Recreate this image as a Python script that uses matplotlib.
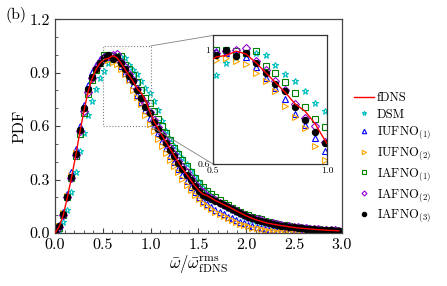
import numpy as np
import matplotlib
matplotlib.use('Agg')
import matplotlib.pyplot as plt
from matplotlib.patches import Rectangle, ConnectionPatch
from matplotlib.ticker import MultipleLocator

plt.rcParams['font.family'] = 'serif'
plt.rcParams['font.serif'] = ['cmr10']
plt.rcParams['mathtext.fontset'] = 'cm'
plt.rcParams['axes.formatter.use_mathtext'] = True

# bin centres of the PDF
x = np.arange(70) * 0.043

fdns = [0.0, 0.035, 0.10, 0.20, 0.31, 0.43, 0.56, 0.68, 0.79, 0.865,
        0.92, 0.955, 0.975, 0.98, 0.995, 0.985, 0.955, 0.92, 0.885, 0.85,
        0.81, 0.785, 0.742, 0.684, 0.63, 0.59, 0.548, 0.51, 0.472, 0.435,
        0.398, 0.362, 0.33, 0.297, 0.265, 0.238, 0.218, 0.21, 0.196, 0.183,
        0.172, 0.16, 0.15, 0.138, 0.126, 0.114, 0.102, 0.092, 0.082, 0.074,
        0.067, 0.060, 0.055, 0.050, 0.046, 0.042, 0.039, 0.035, 0.032, 0.029,
        0.027, 0.025, 0.023, 0.021, 0.019, 0.018, 0.016, 0.015, 0.014, 0.013]

dsm = [0.0, 0.02, 0.06, 0.13, 0.23, 0.34, 0.46, 0.56, 0.66, 0.74,
       0.81, 0.87, 0.91, 0.955, 0.975, 0.985, 0.988, 0.98, 0.945, 0.915,
       0.89, 0.855, 0.815, 0.785, 0.74, 0.69, 0.63, 0.57, 0.53, 0.49,
       0.455, 0.42, 0.385, 0.35, 0.315, 0.285, 0.255, 0.23, 0.208, 0.188,
       0.17, 0.155, 0.142, 0.13, 0.118, 0.106, 0.095, 0.085, 0.076, 0.068,
       0.061, 0.055, 0.05, 0.045, 0.041, 0.037, 0.034, 0.031, 0.028, 0.026,
       0.024, 0.022, 0.02, 0.018, 0.017, 0.015, 0.014, 0.013, 0.012, 0.011]

iufno1 = [0.0, 0.045, 0.12, 0.22, 0.34, 0.47, 0.60, 0.72, 0.83, 0.905,
          0.945, 0.975, 0.995, 0.99, 0.985, 0.975, 0.94, 0.90, 0.865, 0.828,
          0.775, 0.735, 0.69, 0.646, 0.60, 0.56, 0.515, 0.475, 0.435, 0.398,
          0.36, 0.325, 0.29, 0.26, 0.23, 0.203, 0.182, 0.163, 0.147, 0.132,
          0.118, 0.105, 0.093, 0.082, 0.072, 0.063, 0.055, 0.047, 0.041, 0.035,
          0.029, 0.024, 0.02, 0.016, 0.013, 0.01, 0.008, 0.006, 0.005, 0.004,
          0.003, 0.002, 0.002, 0.001, 0.001, 0.001, 0.001, 0.0, 0.0, 0.0]

iufno2 = [0.0, 0.04, 0.11, 0.21, 0.32, 0.45, 0.575, 0.69, 0.79, 0.86,
          0.91, 0.945, 0.965, 0.97, 0.961, 0.949, 0.92, 0.892, 0.857, 0.804,
          0.764, 0.724, 0.663, 0.613, 0.575, 0.53, 0.49, 0.45, 0.41, 0.375,
          0.34, 0.305, 0.272, 0.242, 0.215, 0.19, 0.17, 0.152, 0.136, 0.121,
          0.107, 0.094, 0.082, 0.071, 0.061, 0.052, 0.044, 0.037, 0.031, 0.026,
          0.021, 0.017, 0.013, 0.01, 0.008, 0.006, 0.005, 0.004, 0.003, 0.002,
          0.002, 0.001, 0.001, 0.001, 0.0, 0.0, 0.0, 0.0, 0.0, 0.0]

iafno1 = [0.0, 0.03, 0.10, 0.20, 0.31, 0.43, 0.555, 0.675, 0.78, 0.86,
          0.915, 0.955, 1.0, 1.0, 0.995, 0.99, 0.995, 0.943, 0.92, 0.888,
          0.847, 0.80, 0.757, 0.729, 0.685, 0.64, 0.60, 0.56, 0.52, 0.48,
          0.445, 0.41, 0.375, 0.342, 0.31, 0.282, 0.258, 0.236, 0.217, 0.2,
          0.184, 0.169, 0.155, 0.142, 0.13, 0.119, 0.109, 0.1, 0.092, 0.084,
          0.077, 0.07, 0.064, 0.058, 0.053, 0.048, 0.044, 0.04, 0.036, 0.033,
          0.03, 0.027, 0.025, 0.023, 0.021, 0.019, 0.017, 0.016, 0.015, 0.014]

iafno2 = [0.005, 0.035, 0.10, 0.20, 0.31, 0.44, 0.57, 0.685, 0.79, 0.87,
          0.925, 0.96, 0.99, 0.995, 1.0, 1.005, 0.96, 0.93, 0.89, 0.86,
          0.81, 0.76, 0.731, 0.677, 0.635, 0.595, 0.555, 0.515, 0.478, 0.442,
          0.407, 0.372, 0.34, 0.308, 0.278, 0.25, 0.228, 0.21, 0.196, 0.183,
          0.17, 0.158, 0.146, 0.134, 0.123, 0.112, 0.102, 0.093, 0.085, 0.078,
          0.071, 0.065, 0.059, 0.054, 0.05, 0.046, 0.042, 0.038, 0.035, 0.032,
          0.029, 0.027, 0.025, 0.023, 0.021, 0.019, 0.018, 0.016, 0.015, 0.014]

iafno3 = [0.005, 0.04, 0.105, 0.205, 0.317, 0.445, 0.58, 0.70, 0.806, 0.877,
          0.922, 0.956, 0.981, 1.0, 0.977, 0.99, 0.953, 0.918, 0.879, 0.855,
          0.80, 0.755, 0.71, 0.672, 0.625, 0.585, 0.543, 0.505, 0.468, 0.432,
          0.395, 0.36, 0.327, 0.295, 0.262, 0.235, 0.215, 0.203, 0.19, 0.178,
          0.167, 0.156, 0.145, 0.134, 0.123, 0.112, 0.101, 0.091, 0.082, 0.074,
          0.067, 0.06, 0.055, 0.05, 0.046, 0.042, 0.038, 0.035, 0.032, 0.029,
          0.027, 0.025, 0.023, 0.021, 0.019, 0.018, 0.016, 0.015, 0.014, 0.013]

# (label, data, marker, colour, filled)
series = [
    ('DSM', dsm, '*', 'c', False),
    (r'IUFNO$_{(1)}$', iufno1, '^', 'b', False),
    (r'IUFNO$_{(2)}$', iufno2, '>', 'orange', False),
    (r'IAFNO$_{(1)}$', iafno1, 's', 'g', False),
    (r'IAFNO$_{(2)}$', iafno2, 'D', 'darkviolet', False),
    (r'IAFNO$_{(3)}$', iafno3, 'o', 'k', True),
]


def draw(ax, ms):
    ax.plot(x, fdns, '-', color='red', lw=1.0, label='fDNS', zorder=10)
    for lab, y, m, c, filled in series:
        s = ms * 0.8 if m == 'D' else ms
        ax.plot(x, y, ls='none', marker=m, ms=s, mec=c,
                mfc=c if filled else 'none', mew=0.8, label=lab)


fig = plt.figure(figsize=(4.47, 2.86), dpi=100)
ax = fig.add_axes([0.123, 0.185, 0.642, 0.748])
draw(ax, 4.5)
ax.set_xlim(0, 3)
ax.set_ylim(0, 1.2)
ax.set_xticks([0, 0.5, 1.0, 1.5, 2.0, 2.5, 3.0])
ax.set_yticks([0, 0.3, 0.6, 0.9, 1.2])
ax.xaxis.set_minor_locator(MultipleLocator(0.1))
ax.yaxis.set_minor_locator(MultipleLocator(0.1))
ax.xaxis.set_major_formatter(plt.FormatStrFormatter('%.1f'))
ax.yaxis.set_major_formatter(plt.FormatStrFormatter('%.1f'))
ax.tick_params(which='both', direction='in', labelsize=11.5, color='#444444')
ax.tick_params(which='major', length=3.5)
ax.tick_params(which='minor', length=2)
for sp in ax.spines.values():
    sp.set_color('#444444')
    sp.set_linewidth(0.9)
ax.set_xlabel(r'$\bar{\omega}/\bar{\omega}^{\rm rms}_{\rm fDNS}$', fontsize=12, labelpad=1)
ax.set_ylabel('PDF', fontsize=11.5, labelpad=2)

leg = ax.legend(loc='center left', bbox_to_anchor=(1.0, 0.35), frameon=False,
                fontsize=9, handlelength=1.6, handletextpad=0.2,
                labelspacing=0.35, markerscale=0.7, borderaxespad=0.6)

fig.text(0.012, 0.935, '(b)', fontsize=11.5)

# zoom box and inset
ax.add_patch(Rectangle((0.5, 0.6), 0.5, 0.45, fill=False, ls=':', lw=0.8,
                       ec='grey', zorder=12))
axin = fig.add_axes([0.476, 0.427, 0.256, 0.449])
draw(axin, 4.5)
axin.set_xlim(0.5, 1.0)
axin.set_ylim(0.6, 1.05)
axin.set_xticks([0.5, 1.0])
axin.set_xticklabels(['0.5', '1.0'])
axin.set_yticks([0.6, 1.0])
axin.set_yticklabels(['0.6', '1'])
axin.tick_params(direction='in', labelsize=7, length=2.5, pad=2)
for sp in axin.spines.values():
    sp.set_color('#333333')
    sp.set_linewidth(0.9)

for (xa, ya), (xb, yb) in [((1.0, 1.05), (0, 1)), ((1.0, 0.6), (0, 0))]:
    con = ConnectionPatch(xyA=(xa, ya), coordsA=ax.transData,
                          xyB=(xb, yb), coordsB=axin.transAxes,
                          color='grey', lw=0.6)
    fig.add_artist(con)

plt.savefig('out.png', dpi=100)
